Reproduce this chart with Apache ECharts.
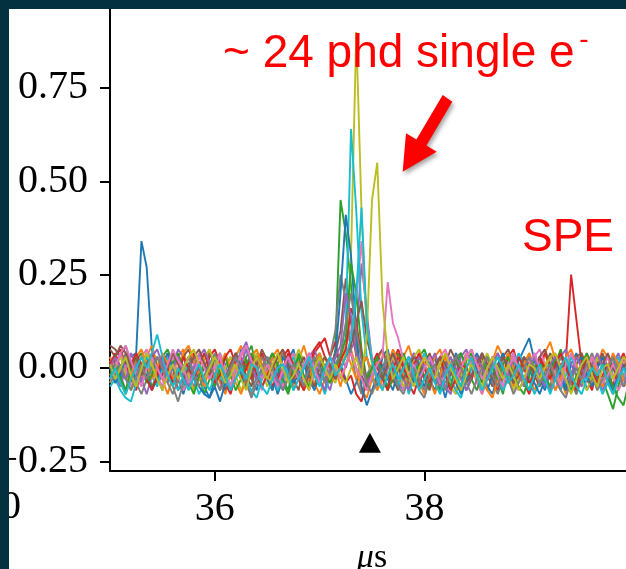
<!DOCTYPE html>
<html>
<head>
<meta charset="utf-8">
<script src="https://cdn.jsdelivr.net/npm/echarts@6/dist/echarts.min.js"></script>
<style>
html,body{margin:0;padding:0;background:#fff;}
#c{width:626px;height:569px;}
</style>
</head>
<body>
<div id="c"></div>
<script>
// ---- time axis (µs) ----
const tStart = 35.00;
const tStep = 0.05;
const nSamples = 100;

// ---- axis ticks ----
const yTicks = [-0.25, 0.00, 0.25, 0.50, 0.75, 1.00];
const xTicks = [36, 38];

// ---- marker (triangle) ----
const markerPoint = [[37.48, -0.20]];

// ---- colours (matplotlib tab10 cycle) ----
const palette = ['#1f77b4','#ff7f0e','#2ca02c','#d62728','#9467bd','#8c564b','#e377c2','#7f7f7f','#bcbd22','#17becf'];

// ---- waveforms (phd/sample) ----
const trace00 = [-0.03,0.02,-0.04,0.01,0.03,0.04,0.34,0.27,0.05,-0.02, -0.06,0.00,0.03,-0.03,-0.07,-0.02,0.04,0.01,-0.05,-0.08, -0.03,0.03,0.01,-0.05,-0.02,0.05,0.02,-0.03,-0.06,0.00, 0.03,-0.02,-0.07,-0.03,0.02,0.05,-0.01,-0.05,-0.02,0.03, -0.03,-0.06,0.00,0.04,0.01,-0.03,-0.07,-0.04,0.02,0.03, -0.02,-0.05,0.03,0.05,-0.01,-0.04,-0.06,0.01,0.04,-0.02, -0.05,0.00,0.03,-0.03,-0.08,-0.02,0.04,0.01,-0.04,0.00, 0.04,0.01,-0.05,-0.07,-0.02,0.03,-0.01,-0.04,0.02,0.05, 0.08,0.02,-0.03,-0.06,-0.01,0.03,-0.02,-0.05,0.01,0.04, 0.00,-0.06,-0.03,0.03,0.01,-0.04,-0.07,-0.02,0.03,-0.01];
const trace01 = [0.02,-0.04,-0.01,0.04,0.01,-0.05,-0.03,0.03,0.06,0.01, -0.03,-0.07,-0.02,0.03,0.05,-0.01,-0.06,-0.03,0.02,0.05, 0.00,-0.04,-0.07,-0.02,0.03,0.06,0.01,-0.03,0.00,0.04, -0.03,-0.06,0.01,0.05,-0.01,-0.05,0.02,0.06,0.01,-0.04, -0.07,-0.03,0.03,0.00,-0.05,0.01,0.05,0.00,-0.06,-0.08, -0.03,0.02,0.05,-0.01,-0.04,0.00,0.03,0.06,0.01,-0.04, -0.07,-0.02,0.03,0.05,0.00,-0.03,-0.06,0.01,0.04,0.02, -0.03,-0.07,-0.03,0.02,0.06,0.03,-0.01,-0.05,0.00,0.03, -0.02,-0.06,-0.03,0.04,0.07,0.02,-0.03,-0.07,-0.04,0.01, 0.04,0.00,-0.05,0.01,0.05,0.03,-0.02,-0.06,-0.03,0.02];
const trace02 = [0.00,0.03,-0.02,-0.06,-0.03,0.02,0.04,0.00,-0.05,-0.02, 0.03,0.05,0.01,-0.03,-0.06,0.00,0.03,-0.02,-0.07,-0.03, 0.02,0.04,-0.02,-0.05,0.00,-0.03,0.03,0.06,0.00,-0.05, -0.02,0.03,0.00,-0.04,-0.07,-0.02,0.04,0.01,-0.03,0.02, 0.04,0.00,-0.03,0.05,0.45,0.36,0.22,0.06,-0.03,-0.06, 0.00,0.03,-0.02,-0.05,0.01,0.04,0.00,-0.06,-0.03,0.03, 0.05,0.01,-0.03,-0.06,0.00,0.03,-0.02,-0.05,0.02,0.04, 0.00,-0.04,-0.02,0.03,-0.03,-0.07,0.00,0.04,0.01,-0.03, -0.06,0.00,0.03,-0.02,-0.05,0.01,0.05,0.00,-0.03,-0.07, -0.02,0.03,0.00,-0.04,-0.03,-0.07,-0.11,-0.05,0.01,0.00];
const trace03 = [-0.02,0.03,0.05,0.01,-0.03,-0.06,0.00,0.04,0.01,-0.04, -0.02,0.03,0.00,-0.06,-0.03,0.01,0.04,0.00,-0.03,0.03, 0.05,0.01,-0.04,-0.07,-0.02,0.03,0.00,-0.03,0.01,0.04, 0.00,-0.05,-0.02,0.03,0.05,0.01,-0.03,-0.06,0.00,0.04, 0.06,0.08,0.03,0.07,0.00,-0.04,-0.02,-0.07,-0.09,-0.03, 0.01,0.04,0.00,-0.03,0.02,0.05,0.01,-0.04,-0.07,-0.02, 0.03,0.00,-0.04,-0.02,0.04,0.01,-0.03,-0.06,0.00,0.03, -0.02,0.04,0.01,-0.03,-0.06,-0.02,0.03,0.05,0.00,-0.04, -0.07,-0.03,0.01,0.04,0.00,-0.03,0.01,0.02,0.25,0.13, 0.01,-0.03,-0.06,0.00,0.03,-0.02,-0.05,0.01,0.04,0.00];
const trace04 = [0.03,-0.02,-0.05,0.00,0.04,0.01,-0.03,-0.07,-0.02,0.03, 0.00,-0.04,0.01,0.05,0.03,-0.02,-0.05,0.00,0.04,0.01, -0.03,-0.06,0.00,0.03,-0.02,0.04,0.07,0.02,-0.03,-0.02, 0.01,0.04,-0.02,-0.06,-0.03,0.01,0.00,-0.05,0.03,0.05, 0.01,-0.03,-0.06,0.00,0.03,0.00,0.05,0.08,0.28,0.15, 0.02,-0.04,-0.02,0.03,0.00,-0.06,-0.03,0.01,0.04,0.00, -0.03,0.01,0.04,0.00,-0.05,-0.07,-0.02,0.03,0.05,0.01, -0.03,0.00,0.03,-0.02,-0.05,0.01,0.04,0.00,-0.06,-0.03, 0.01,0.04,0.00,-0.03,-0.06,0.00,0.03,0.05,0.01,-0.02, -0.05,0.00,0.03,-0.02,-0.06,-0.03,0.01,0.04,0.00,-0.03];
const trace05 = [0.06,0.05,0.03,0.06,0.01,-0.03,0.00,0.04,0.01,-0.02, 0.03,0.00,-0.04,-0.02,0.03,0.05,0.01,-0.03,0.00,0.04, 0.01,-0.03,-0.06,0.00,0.04,0.02,-0.02,-0.05,0.01,0.05, 0.02,-0.02,-0.05,0.00,0.03,-0.03,-0.06,0.01,0.04,0.00, -0.03,0.01,0.00,0.04,0.10,0.24,0.12,0.03,-0.02,-0.05, 0.00,0.03,0.05,0.01,-0.03,-0.06,0.00,0.03,-0.02,-0.05, 0.01,0.04,0.00,-0.03,0.01,0.05,0.02,-0.02,-0.06,-0.03, 0.01,0.03,-0.02,-0.05,0.00,0.03,0.05,0.01,-0.03,0.00, 0.03,-0.02,-0.05,0.00,0.04,0.01,-0.03,-0.06,-0.02,0.03, 0.04,0.00,-0.03,0.01,0.04,0.00,-0.05,-0.02,0.03,0.01];
const trace06 = [-0.03,0.01,0.04,0.00,-0.05,-0.02,0.03,0.05,0.02,-0.02, -0.05,0.00,0.03,-0.02,-0.06,-0.03,0.01,0.04,0.00,-0.03, 0.01,0.04,0.00,-0.05,-0.02,0.03,0.06,0.01,-0.03,-0.06, 0.00,0.03,-0.02,-0.05,0.01,0.04,0.00,-0.03,-0.06,-0.02, 0.03,0.00,-0.04,-0.02,0.02,0.06,0.10,0.18,0.34,0.12, 0.03,-0.02,-0.05,0.00,0.03,-0.02,-0.06,-0.03,0.01,0.04, 0.00,-0.04,-0.02,0.03,0.05,0.01,-0.03,0.00,0.04,0.01, -0.04,-0.07,-0.02,0.03,0.00,-0.03,0.01,0.04,0.00,-0.05, -0.02,0.03,0.05,0.01,-0.03,-0.06,0.00,0.03,-0.02,-0.05, 0.00,0.04,0.01,-0.03,0.00,0.03,-0.02,-0.06,-0.03,0.01];
const trace07 = [0.01,-0.03,0.00,0.04,0.01,-0.04,-0.07,-0.03,0.01,0.00, 0.03,-0.02,-0.05,-0.09,-0.04,0.00,0.03,-0.02,-0.05,0.01, 0.04,0.00,-0.03,0.01,0.04,0.00,-0.04,-0.07,-0.02,0.03, 0.00,-0.03,0.01,0.04,0.00,-0.06,-0.03,0.01,0.03,-0.02, -0.04,0.00,0.03,0.10,0.25,0.18,0.04,-0.03,-0.07,-0.02, 0.01,-0.03,0.00,0.04,0.01,-0.04,-0.02,0.03,0.00,-0.06, -0.08,-0.03,0.01,0.00,-0.04,-0.02,0.03,0.04,0.00,-0.03, 0.01,0.04,0.00,-0.04,-0.07,-0.03,0.00,0.03,-0.02,-0.05, 0.00,0.03,0.01,-0.03,-0.06,-0.02,0.03,0.00,-0.04,-0.07, -0.03,0.01,0.04,0.00,-0.04,-0.02,0.03,0.00,-0.05,-0.03];
const trace08 = [-0.04,0.00,0.03,-0.02,-0.06,-0.03,0.01,0.04,0.00,-0.03, 0.01,0.04,0.00,-0.03,0.01,-0.02,-0.06,-0.03,0.03,0.05, 0.01,-0.03,0.00,0.03,-0.02,-0.06,-0.03,0.01,0.04,0.00, -0.05,-0.02,0.03,0.00,-0.03,0.01,0.05,0.02,-0.02,-0.05, 0.00,0.03,-0.02,-0.04,0.00,0.04,0.30,0.90,0.42,0.10, 0.01,-0.03,-0.06,0.00,0.03,0.00,-0.05,-0.02,0.03,0.05, 0.01,-0.03,-0.02,0.03,0.00,-0.05,-0.07,-0.02,0.03,0.00, -0.03,0.01,0.04,0.00,-0.03,0.01,-0.02,-0.06,-0.03,0.01, 0.04,0.00,-0.03,0.01,0.03,-0.02,-0.05,0.00,0.03,0.01, -0.03,-0.06,-0.02,0.03,0.00,-0.04,-0.07,-0.03,0.01,0.04];
const trace09 = [-0.05,-0.03,-0.06,-0.08,-0.09,-0.04,0.00,0.03,-0.02,-0.05, 0.00,0.03,-0.03,-0.06,-0.02,0.01,-0.03,-0.07,-0.04,0.00, 0.03,-0.02,-0.05,0.00,0.04,0.01,-0.03,-0.06,-0.08,-0.03, 0.01,-0.02,-0.06,-0.03,0.00,0.03,-0.02,-0.05,0.01,0.00, -0.03,-0.07,-0.02,0.01,0.03,0.12,0.64,0.42,0.15,0.03, -0.03,-0.06,0.00,0.03,-0.02,-0.05,0.00,-0.07,-0.03,0.01, 0.04,0.00,-0.04,-0.02,0.01,-0.03,-0.06,-0.08,-0.03,0.00, 0.03,0.00,-0.03,0.01,-0.02,-0.06,-0.03,0.00,0.04,0.01, -0.03,-0.07,-0.04,0.00,0.01,-0.03,-0.06,-0.02,0.03,0.00, -0.04,-0.02,0.01,-0.03,-0.07,-0.04,0.00,0.03,-0.02,-0.06];
const trace10 = [0.00,-0.04,-0.02,0.03,0.00,-0.03,0.01,-0.02,-0.06,-0.03, 0.01,0.04,0.00,-0.03,0.00,0.03,-0.02,-0.05,-0.07,-0.08, -0.05,-0.09,-0.04,0.00,0.03,-0.02,-0.05,0.00,0.03,0.01, -0.03,-0.06,-0.02,0.03,0.00,-0.04,-0.02,0.01,-0.03,-0.06, -0.02,0.01,-0.03,0.03,0.20,0.41,0.30,0.10,-0.05,-0.10, -0.06,-0.02,0.01,-0.03,-0.06,0.00,0.03,0.00,-0.04,-0.02, 0.01,-0.03,-0.06,-0.02,0.03,0.00,-0.04,-0.07,-0.03,0.01, 0.00,-0.03,-0.06,-0.02,0.01,0.04,0.00,-0.04,-0.02,0.03, 0.00,-0.04,-0.07,-0.03,0.00,0.03,-0.02,-0.06,-0.03,0.01, 0.03,-0.02,-0.05,0.00,0.03,-0.03,-0.06,-0.02,0.01,-0.03];
const trace11 = [0.03,0.00,-0.04,-0.07,-0.02,0.03,0.05,0.01,-0.03,0.00, 0.04,0.01,-0.03,0.00,0.04,0.06,0.02,-0.02,-0.05,0.00, -0.03,0.01,0.04,0.00,-0.04,-0.07,-0.03,0.03,0.05,0.01, -0.02,0.03,0.05,0.00,-0.03,0.01,-0.02,-0.06,-0.03,0.01, 0.04,0.00,-0.04,-0.02,0.03,0.05,0.01,-0.03,0.00,0.03, -0.02,-0.06,-0.03,0.01,0.05,0.02,-0.02,-0.05,0.00,0.04, 0.01,-0.03,-0.07,-0.02,0.03,0.00,-0.04,0.00,0.03,0.05, 0.01,-0.02,-0.06,-0.08,-0.03,0.01,0.04,0.00,-0.03,0.01, 0.04,0.00,-0.03,0.01,-0.02,-0.06,-0.03,0.03,0.05,0.01, -0.03,0.00,0.03,-0.02,-0.05,0.00,0.04,0.01,-0.03,-0.06];
const trace12 = [-0.02,0.01,-0.03,-0.06,0.00,0.03,0.00,-0.04,-0.02,0.03, 0.00,-0.03,0.01,0.04,0.00,-0.04,-0.07,-0.02,0.01,-0.02, -0.05,0.00,0.03,-0.02,-0.06,-0.03,0.01,0.04,0.00,-0.03, 0.01,0.04,0.01,-0.03,-0.06,0.00,0.03,-0.02,-0.05,0.00, 0.03,-0.02,-0.04,0.00,0.03,0.08,0.28,0.20,0.05,-0.03, 0.00,0.03,-0.02,-0.06,-0.03,0.01,0.04,0.00,-0.03,0.01, -0.02,-0.05,0.00,0.03,-0.02,-0.05,0.01,0.04,0.00,-0.03, -0.06,-0.02,0.03,0.00,-0.03,0.01,0.03,-0.02,-0.05,-0.07, -0.02,0.03,0.00,-0.04,-0.02,0.03,0.00,-0.03,-0.06,-0.02, 0.01,0.04,0.00,-0.03,0.01,-0.02,-0.05,-0.08,-0.10,-0.04];
const trace13 = [0.01,0.04,0.00,-0.03,0.01,0.04,0.01,-0.03,-0.06,-0.02, 0.03,0.00,-0.04,-0.02,0.03,0.00,-0.03,0.01,0.04,0.00, -0.04,-0.02,0.03,0.05,0.01,-0.03,0.00,0.03,-0.02,-0.05, -0.02,0.01,-0.03,0.00,0.04,0.01,-0.03,-0.06,0.00,0.05, 0.07,0.03,0.00,-0.03,0.02,0.05,0.16,0.12,0.03,-0.04, -0.02,0.01,-0.03,-0.06,0.00,0.03,0.00,-0.03,0.01,0.04, 0.00,-0.04,0.00,0.03,-0.02,-0.06,-0.03,0.01,0.00,-0.03, 0.03,0.00,-0.03,0.01,0.04,0.00,-0.04,-0.02,0.03,0.00, -0.04,-0.02,0.03,0.00,-0.03,0.01,0.04,0.00,-0.03,-0.06, -0.02,0.03,0.00,-0.04,-0.02,0.01,0.00,-0.03,0.03,0.00];
const trace14 = [0.00,0.03,0.00,-0.03,0.01,0.00,-0.04,0.00,0.03,0.05, 0.01,-0.03,0.00,0.03,-0.02,-0.05,0.00,0.03,0.05,0.01, -0.02,0.01,-0.03,-0.06,0.00,0.01,0.05,0.01,-0.03,0.00, 0.03,0.00,-0.04,-0.02,0.03,0.00,-0.03,0.01,0.04,0.01, -0.03,-0.06,0.00,0.03,0.06,0.20,0.14,0.04,0.00,-0.04, -0.02,0.01,-0.03,0.00,0.04,0.01,-0.03,-0.06,0.00,0.03, 0.00,0.03,-0.02,-0.05,0.00,0.03,0.00,-0.03,-0.06,-0.02, 0.03,0.00,-0.03,0.01,0.04,0.00,-0.02,0.03,0.00,-0.04, 0.00,0.03,-0.02,-0.05,0.01,0.03,0.00,-0.04,-0.02,0.03, 0.00,-0.03,0.01,0.04,0.00,-0.03,0.01,-0.02,-0.05,0.00];
const trace15 = [0.05,0.03,0.06,0.04,0.00,0.03,-0.02,0.01,0.04,0.00, -0.03,0.00,0.04,0.01,-0.03,0.00,0.03,0.05,0.01,-0.02, 0.03,0.00,-0.03,0.01,0.04,0.00,-0.04,-0.02,0.03,0.00, -0.03,0.00,0.03,0.05,0.01,-0.03,0.00,0.03,-0.02,-0.05, 0.00,0.03,0.01,-0.03,0.00,0.03,0.06,0.12,0.18,0.08, 0.02,0.00,-0.03,0.01,0.04,0.00,-0.03,0.00,0.03,0.01, -0.03,-0.06,0.00,0.03,0.01,-0.02,0.03,0.00,-0.04,-0.02, 0.01,0.04,0.01,-0.03,0.00,0.03,0.00,-0.04,-0.02,0.03, 0.01,-0.02,0.03,0.05,0.01,-0.03,0.00,0.01,-0.02,-0.05, 0.00,0.03,0.00,-0.03,0.01,0.04,0.00,-0.03,0.00,0.03];
const trace16 = [-0.03,0.00,0.04,0.06,0.02,-0.02,-0.05,0.00,0.03,0.00, -0.03,0.01,0.05,0.02,0.00,-0.04,-0.02,0.03,0.00,-0.03, 0.00,0.03,-0.02,-0.05,0.00,0.04,0.06,0.02,0.00,-0.03, 0.01,-0.02,-0.05,0.00,0.03,0.00,-0.03,0.01,0.04,0.00, -0.04,-0.02,0.03,0.00,-0.03,0.01,0.04,0.00,-0.03,-0.06, -0.02,0.01,0.03,0.23,0.12,0.08,0.02,-0.02,0.01,-0.03, 0.00,0.03,0.00,-0.04,-0.02,0.01,-0.03,0.00,0.03,0.05, 0.01,-0.03,0.00,0.03,-0.02,-0.05,0.00,0.03,0.00,-0.03, 0.01,0.04,0.00,-0.03,0.01,-0.02,-0.05,0.01,0.04,0.00, -0.03,0.00,0.03,0.00,-0.04,-0.02,0.01,-0.02,0.03,0.00];
const trace17 = [-0.04,-0.02,0.01,-0.03,-0.06,-0.02,0.01,-0.03,0.00,0.03, 0.00,-0.04,-0.07,-0.03,0.00,0.03,-0.02,-0.05,-0.02,0.01, -0.02,-0.06,-0.03,0.00,0.03,0.00,-0.04,-0.08,-0.04,0.00, 0.03,0.00,-0.03,-0.06,-0.02,0.01,-0.02,-0.05,0.00,0.03, 0.00,-0.04,-0.02,0.01,0.04,0.12,0.20,0.10,0.02,-0.04, -0.07,-0.03,0.00,0.03,-0.02,-0.05,-0.07,-0.03,0.00,-0.03, -0.06,-0.02,0.01,-0.03,-0.06,0.00,0.03,0.00,-0.04,-0.07, -0.03,0.00,0.03,-0.02,-0.05,0.00,-0.03,-0.07,-0.04,0.00, 0.03,0.00,-0.04,-0.02,0.01,-0.03,-0.06,-0.08,-0.03,0.00, -0.03,0.01,-0.02,-0.06,-0.03,0.00,0.03,-0.02,-0.05,-0.02];
const trace18 = [0.01,-0.03,0.00,0.03,-0.02,-0.05,0.00,0.04,0.01,-0.03, -0.06,-0.02,0.01,-0.03,0.00,0.03,0.05,0.01,-0.03,0.00, 0.03,0.00,-0.04,-0.02,0.01,-0.03,-0.06,0.00,0.03,0.00, -0.03,0.01,0.04,0.00,-0.04,-0.02,0.01,-0.03,-0.06,0.00, 0.03,0.00,-0.03,0.01,-0.02,-0.04,0.00,0.03,-0.02,0.08, 0.45,0.55,0.18,0.03,-0.03,0.00,0.03,-0.02,-0.05,0.00, 0.03,0.00,-0.03,0.01,0.04,0.00,-0.03,-0.06,-0.02,0.01, -0.02,-0.05,0.00,0.03,0.00,-0.03,0.01,-0.02,-0.06,-0.03, 0.01,0.00,-0.03,0.00,0.03,0.04,0.00,-0.03,-0.07,-0.03, 0.01,0.03,-0.02,-0.05,0.00,0.01,-0.03,0.00,0.03,0.01];
const trace19 = [-0.03,0.00,-0.04,-0.07,-0.03,0.00,0.03,0.00,0.04,0.09, 0.03,-0.02,-0.05,0.00,-0.03,-0.06,-0.02,0.01,-0.03,-0.06, -0.02,0.01,-0.02,-0.06,-0.03,0.00,-0.03,0.01,0.00,-0.05, -0.07,-0.03,0.00,0.01,-0.02,-0.06,-0.03,0.00,0.03,-0.02, -0.05,0.00,0.03,-0.02,0.00,0.03,0.08,0.20,0.43,0.12, 0.02,-0.03,-0.06,-0.02,0.01,-0.03,0.00,0.03,-0.02,-0.06, -0.03,0.00,-0.04,-0.07,-0.02,0.01,-0.02,-0.05,0.00,0.03, -0.02,-0.06,-0.03,0.00,0.03,0.00,-0.04,-0.02,0.01,-0.03, -0.06,-0.02,0.01,-0.03,-0.07,-0.03,0.00,0.03,-0.02,-0.05, -0.07,-0.03,0.00,-0.02,0.01,-0.04,-0.07,-0.03,0.00,-0.03];

const traces = [trace00,trace01,trace02,trace03,trace04,trace05,trace06,trace07,trace08,trace09,
                trace10,trace11,trace12,trace13,trace14,trace15,trace16,trace17,trace18,trace19];

// ---- build ----
const times = [];
for (let i = 0; i < nSamples; i++) times.push(+(tStart + tStep * i).toFixed(2));

const serif = 'Liberation Serif';

const series = traces.map((vals, k) => ({
  type: 'line',
  data: vals.map((v, i) => [times[i], v]),
  showSymbol: false,
  symbol: 'none',
  silent: true,
  lineStyle: { width: 1.9, color: palette[k % 10] },
  z: 2
}));
series.push({
  type: 'scatter',
  data: markerPoint,
  symbol: 'triangle',
  symbolSize: [22, 20],
  itemStyle: { color: '#000', opacity: 1 },
  silent: true,
  z: 5
});

const fmt = v => (v < 0 ? '\u2212' : '') + Math.abs(v).toFixed(2);

const chart = echarts.init(document.getElementById('c'), null, { renderer: 'canvas' });
chart.setOption({
  animation: false,
  backgroundColor: '#ffffff',
  grid: { left: 110, top: -24, width: 524, height: 495, containLabel: false, outerBoundsMode: 'none' },
  xAxis: {
    type: 'value',
    min: 35, max: 40,
    axisLine: { show: true, onZero: false, lineStyle: { color: '#000', width: 2 } },
    axisTick: { show: true, length: 10, lineStyle: { color: '#000', width: 2 }, customValues: xTicks },
    axisLabel: { show: true, customValues: xTicks, margin: 18, color: '#000', fontFamily: serif, fontSize: 40, formatter: v => String(v) },
    splitLine: { show: false },
    name: '{m|\u03bc}s',
    nameLocation: 'middle',
    nameGap: 70,
    nameTextStyle: { color: '#000', fontFamily: serif, fontSize: 34,
      rich: { m: { fontStyle: 'italic', fontFamily: serif, fontSize: 34, color: '#000' } } }
  },
  yAxis: {
    type: 'value',
    min: -0.2759, max: 1.05,
    axisLine: { show: true, lineStyle: { color: '#000', width: 2 } },
    axisTick: { show: true, length: 10, lineStyle: { color: '#000', width: 2 }, customValues: yTicks },
    axisLabel: { show: true, customValues: yTicks, margin: 22, color: '#000', fontFamily: serif, fontSize: 40, formatter: fmt },
    splitLine: { show: false }
  },
  series: series,
  graphic: [
    { type: 'text', z: 100, style: { x: 21, y: 507, text: '0', fill: '#000', font: '40px "Liberation Serif"', align: 'right', verticalAlign: 'middle' } },
    { type: 'text', z: 120, style: { x: 223, y: 54, text: '~ 24 phd single e', fill: '#ff0000', font: '46px "Liberation Sans"', align: 'left', verticalAlign: 'middle' } },
    { type: 'text', z: 120, style: { x: 584, y: 40, text: '-', fill: '#ff0000', font: '28px "Liberation Sans"', align: 'center', verticalAlign: 'middle' } },
    { type: 'text', z: 120, style: { x: 522, y: 238, text: 'SPE', fill: '#ff0000', font: '46px "Liberation Sans"', align: 'left', verticalAlign: 'middle' } },
    { type: 'polygon', z: 120,
      shape: { points: [[442.7,95],[452.3,101.7],[426.4,145.5],[436.7,151.7],[402.7,171.7],[406,133.3],[416.4,139.5]] },
      style: { fill: '#ff0000', shadowBlur: 4, shadowColor: 'rgba(0,0,0,0.35)', shadowOffsetX: 2, shadowOffsetY: 3 } },
    { type: 'rect', z: 200, shape: { x: 0, y: 0, width: 9, height: 569 }, style: { fill: '#03313f' } },
    { type: 'rect', z: 200, shape: { x: 0, y: 0, width: 626, height: 9 }, style: { fill: '#03313f' } }
  ]
});
</script>
</body>
</html>
